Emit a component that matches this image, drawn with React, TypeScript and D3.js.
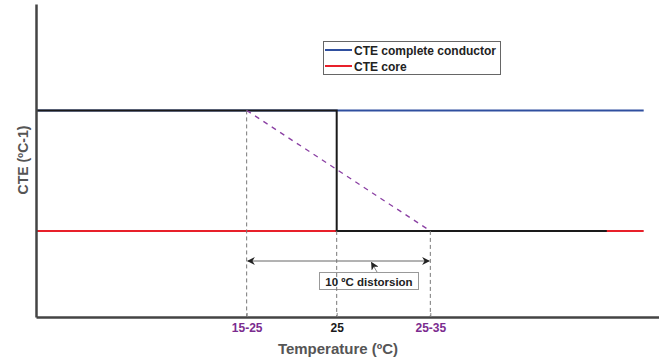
import React, { useEffect, useRef } from 'react';
import * as d3 from 'd3';

const lineTemps = [-8.4, 59.1];
const completeCte = [6.6, 6.6];
const coreCte = [2.75, 2.75];
const conductorTemps = [-8.4, 25, 25, 55];
const conductorCte = [6.6, 6.6, 2.75, 2.75];
const distortionTemps = [15, 35.4];
const distortionCte = [6.6, 2.75];
const tickValues = [15, 25, 35.4];
const tickLabels = ['15-25', '25', '25-35'];
const tickColors = ['#7b2c8f', '#1a1a1a', '#7b2c8f'];
const legendNames = ['CTE complete conductor', 'CTE core'];
const legendColors = ['#2f4f9f', '#e8202a'];

const W = 659;
const H = 359;
const margin = { top: 4, right: 0, bottom: 42, left: 36 };
const FONT = 'Liberation Sans, Arial, sans-serif';

export default function App() {
  const ref = useRef<SVGSVGElement>(null);

  useEffect(() => {
    const svg = d3.select(ref.current);
    svg.selectAll('*').remove();

    const x = d3.scaleLinear().domain([-8.4, 60.8]).range([margin.left, W - margin.right]);
    const y = d3.scaleLinear().domain([0, 10]).range([H - margin.bottom, margin.top]);
    const pts = (xs: number[], ys: number[]) => xs.map((t, i) => [t, ys[i]] as [number, number]);
    const line = d3.line<[number, number]>().x(d => x(d[0])).y(d => y(d[1]));

    // guide lines
    const guides = svg.append('g');
    tickValues.forEach((t, i) => {
      guides.append('line')
        .attr('x1', x(t)).attr('x2', x(t))
        .attr('y1', i === 0 ? y(completeCte[0]) : y(coreCte[0]))
        .attr('y2', y(0))
        .attr('stroke', '#777').attr('stroke-width', 1).attr('stroke-dasharray', '4,3');
    });

    svg.append('path').datum(pts(lineTemps, completeCte)).attr('d', line)
      .attr('fill', 'none').attr('stroke', legendColors[0]).attr('stroke-width', 2);
    svg.append('path').datum(pts(lineTemps, coreCte)).attr('d', line)
      .attr('fill', 'none').attr('stroke', legendColors[1]).attr('stroke-width', 2);
    svg.append('path').datum(pts(conductorTemps, conductorCte)).attr('d', line)
      .attr('fill', 'none').attr('stroke', '#1a1a1a').attr('stroke-width', 2);
    svg.append('path').datum(pts(distortionTemps, distortionCte)).attr('d', line)
      .attr('fill', 'none').attr('stroke', '#8a3fa3').attr('stroke-width', 1.3)
      .attr('stroke-dasharray', '5,5');

    // distortion arrow
    const defs = svg.append('defs');
    defs.append('marker').attr('id', 'ah').attr('viewBox', '0 0 10 10')
      .attr('refX', 9).attr('refY', 5).attr('markerWidth', 8).attr('markerHeight', 8)
      .attr('markerUnits', 'userSpaceOnUse').attr('orient', 'auto-start-reverse')
      .append('path').attr('d', 'M0,0 L10,5 L0,10 L3,5 Z').attr('fill', '#222');
    const ay = 261;
    svg.append('line').attr('x1', x(distortionTemps[0]) + 1).attr('x2', x(distortionTemps[1]) - 1)
      .attr('y1', ay).attr('y2', ay).attr('stroke', '#666').attr('stroke-width', 1)
      .attr('marker-start', 'url(#ah)').attr('marker-end', 'url(#ah)');
    svg.append('line').attr('x1', 377).attr('y1', 272).attr('x2', 371.5).attr('y2', 262.5)
      .attr('stroke', '#888').attr('stroke-width', 1).attr('marker-end', 'url(#ah)');
    svg.append('rect').attr('x', 319.5).attr('y', 272.5).attr('width', 99).attr('height', 17)
      .attr('fill', 'white').attr('stroke', '#999').attr('stroke-width', 1);
    guides.raise();
    svg.append('text').attr('x', 369).attr('y', 285.5).attr('text-anchor', 'middle')
      .attr('font-family', FONT).attr('font-weight', 'bold').attr('font-size', 11.5)
      .attr('fill', '#222').text('10 ºC distorsion');

    // axes
    const xAxis = svg.append('g').attr('transform', `translate(0,${y(0)})`)
      .call(d3.axisBottom(x).tickValues(tickValues).tickSize(-4).tickSizeOuter(0).tickPadding(6)
        .tickFormat((_, i) => tickLabels[i]));
    xAxis.select('.domain').attr('stroke', '#444').attr('stroke-width', 2.5);
    xAxis.selectAll('.tick line').attr('stroke', '#888');
    xAxis.selectAll('.tick text').attr('font-family', FONT).attr('font-weight', 'bold')
      .attr('font-size', 12).attr('fill', (_, i) => tickColors[i]);

    const yAxis = svg.append('g').attr('transform', `translate(${margin.left},0)`)
      .call(d3.axisLeft(y).tickValues([]).tickSizeOuter(0));
    yAxis.select('.domain').attr('stroke', '#444').attr('stroke-width', 2.5);

    svg.append('text').attr('x', 338).attr('y', 354).attr('text-anchor', 'middle')
      .attr('font-family', FONT).attr('font-weight', 'bold').attr('font-size', 15)
      .attr('fill', '#555').text('Temperature (ºC)');
    svg.append('text').attr('transform', 'translate(28,160) rotate(-90)').attr('text-anchor', 'middle')
      .attr('font-family', FONT).attr('font-weight', 'bold').attr('font-size', 14)
      .attr('fill', '#555').text('CTE (ºC-1)');

    // legend
    const lg = svg.append('g');
    lg.append('rect').attr('x', 323.5).attr('y', 41.5).attr('width', 177).attr('height', 33)
      .attr('fill', 'white').attr('stroke', '#666').attr('stroke-width', 1);
    legendNames.forEach((name, i) => {
      const ly = 50 + i * 16;
      lg.append('line').attr('x1', 325).attr('x2', 352).attr('y1', ly).attr('y2', ly)
        .attr('stroke', legendColors[i]).attr('stroke-width', 2);
      lg.append('text').attr('x', 354).attr('y', ly + 4.5).attr('font-family', FONT)
        .attr('font-weight', 'bold').attr('font-size', 12).attr('fill', '#222').text(name);
    });
  }, []);

  return (
    <div style={{ position: 'fixed', left: 0, top: 0 }}>
      <svg ref={ref} width={W} height={H} style={{ display: 'block', background: 'white' }} />
    </div>
  );
}
